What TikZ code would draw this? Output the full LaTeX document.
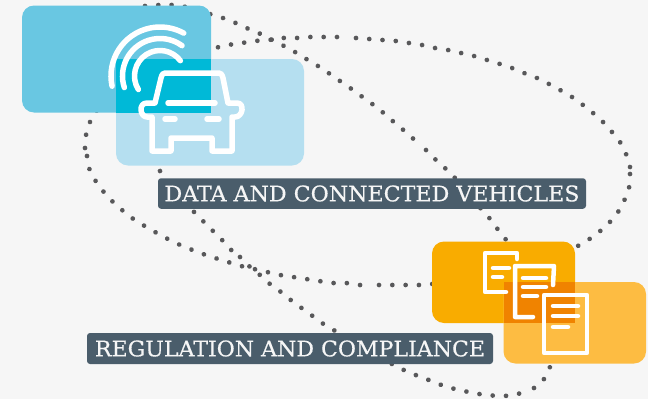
\documentclass[tikz,border=0pt]{standalone}
\usepackage{fontspec}
\setmainfont[FakeBold=0.5]{DejaVu Serif}
\usepackage{xcolor}
\definecolor{pagegray}{HTML}{F6F6F6}
\definecolor{dotgray}{HTML}{58585A}
\definecolor{slate}{HTML}{4A5D6B}
\definecolor{bluedark}{HTML}{69C7E2}
\definecolor{bluelight}{HTML}{B5DFF0}
\definecolor{bluemix}{HTML}{00B9D7}
\definecolor{orangedark}{HTML}{F9AC00}
\definecolor{orangelight}{HTML}{FDBC42}
\definecolor{orangemix}{HTML}{F08300}
\tikzset{
	dotline/.style={color=dotgray, line width=4.7pt, line cap=round, dash pattern=on 0.01pt off 13.3pt},
	card/.style={rounded corners=12pt},
	iconline/.style={color=white, line width=5.5pt, line cap=round, line join=round},
	docline/.style={color=white, line width=4.5pt, line cap=round, line join=round},
	tag/.style={fill=slate, text=pagegray, rounded corners=3pt, inner sep=0pt}
}
\begin{document}
\begin{tikzpicture}[x=1pt, y=-1pt]

	\useasboundingbox (0,0) rectangle (648,399);
	\fill[pagegray] (0,0) rectangle (648,399);

	% dotted loops
	\draw[dotline] plot[smooth] coordinates {(87,156) (89,168) (95,180) (103,191) (112,201) (122,210) (132,218) (143,225) (155,232) (166,238) (178,244) (190,249) (203,254) (215,258) (228,262) (241,266) (254,269) (267,272) (280,275) (293,277) (306,279) (319,281) (332,283) (346,283) (359,285) (372,285)};
	\draw[dotline] plot[smooth] coordinates {(379,285) (392,285) (406,285) (419,285) (432,284) (445,283)};
	\draw[dotline] plot[smooth] coordinates {(85,148) (86,135) (90,122) (97,110) (104,98)};
	\draw[dotline] plot[smooth] coordinates {(145,6) (159,5) (173,5) (186,7) (200,11) (213,15) (226,19) (238,24) (251,30) (263,35) (276,42) (288,48) (300,55) (311,62) (323,69) (334,77) (346,85) (357,93) (368,101) (379,109) (389,118) (400,127) (410,136) (421,145)};
	\draw[dotline] plot[smooth] coordinates {(426,150) (436,160) (446,169) (455,178) (464,189) (473,199) (482,210) (491,220) (499,231) (507,241) (515,252)};
	\draw[dotline] plot[smooth] coordinates {(630,174) (629,188) (624,201) (618,212) (609,223) (599,232) (588,240) (576,247) (565,253)};
	\draw[dotline] plot[smooth] coordinates {(630,167) (626,154) (620,142) (612,132) (603,122) (593,113) (583,105) (572,97) (560,90) (549,84) (537,78) (524,73) (512,68) (500,64) (487,60) (474,56) (461,53) (448,50) (435,48) (422,45) (409,43) (396,41) (383,40) (369,39) (356,38) (343,37)};
	\draw[dotline] plot[smooth] coordinates {(337,37) (324,37) (309,37) (296,38) (282,38) (269,40) (255,41) (242,43) (228,45) (215,48) (203,51)};
	\draw[dotline] plot[smooth] coordinates {(160,171) (168,182) (177,192) (186,203) (195,213) (205,223) (214,232) (224,242) (233,252)};
	\draw[dotline] plot[smooth] coordinates {(240,257) (249,266) (260,275) (270,284) (281,292) (292,301) (303,309) (314,317) (325,325) (337,332) (348,339) (360,346) (372,353) (384,360) (396,366) (408,372) (421,377) (434,382) (447,387) (460,390) (473,393) (487,395) (501,396) (514,395) (527,391)};
	\draw[dotline] plot[smooth] coordinates {(534,388) (544,379) (550,367) (554,355)};

	% blue cards
	\fill[bluedark, card] (22,5.5) rectangle (211,112.5);
	\fill[bluelight, card] (116,59) rectangle (304,165.5);
	\fill[bluemix] (116,59) rectangle (211,112.5);

	% orange cards
	\fill[orangedark, card] (432,241.5) rectangle (575,323);
	\fill[orangelight, card] (503.5,282) rectangle (646,363.5);
	\fill[orangemix] (503.5,282) rectangle (575,323);

	% signal arcs
	\draw[iconline] ([shift={(192:49pt)}]160,76) arc[start angle=192, end angle=61, radius=49pt];
	\draw[iconline] ([shift={(198:37.5pt)}]160,76) arc[start angle=198, end angle=54, radius=37.5pt];
	\draw[iconline] ([shift={(212:25.5pt)}]160,76) arc[start angle=212, end angle=37, radius=25.5pt];

	% car
	\draw[iconline] (152,117) -- (147,117) .. controls (140,117) and (138,103) .. (147,103) -- (155,103) -- (161,78) .. controls (162,74) and (163,73) .. (167,73) -- (217,73) .. controls (221,73) and (222,74) .. (223,78) -- (228,103) -- (237,103) .. controls (245,103) and (243,117) .. (235,117) -- (232,117) -- (232,151) -- (212,151) -- (212,138) -- (171,138) -- (171,151) -- (152,151) -- cycle;
	\draw[iconline] (168,103) -- (215,103);
	\draw[iconline] (165,119) -- (175,119);
	\draw[iconline] (207,119) -- (219,119);

	% documents
	\draw[docline] (517,259) -- (517,253) -- (485,253) -- (485,292) -- (506,292);
	\draw[docline] (493,268) -- (509,268);
	\draw[docline] (493,277) -- (502,277);
	\draw[docline] (553,285) -- (554,266) -- (515,266) -- (515,317) -- (533,317);
	\draw[docline] (523,278) -- (546,278);
	\draw[docline] (523,287) -- (546,287);
	\draw[docline] (523,296) -- (537,296);
	\draw[docline] (544,295) rectangle (587,353);
	\draw[docline] (553,306) -- (578,306);
	\draw[docline] (553,316) -- (578,316);
	\draw[docline] (553,327) -- (568,327);

	% labels
	\node[tag, minimum width=428pt, minimum height=30.5pt] (datatag) at (372,193.5) {\resizebox{415pt}{16pt}{DATA AND CONNECTED VEHICLES}};
	\node[tag, minimum width=406pt, minimum height=31pt] (regtag) at (290,348.5) {\resizebox{390pt}{16pt}{REGULATION AND COMPLIANCE}};

\end{tikzpicture}
\end{document}
